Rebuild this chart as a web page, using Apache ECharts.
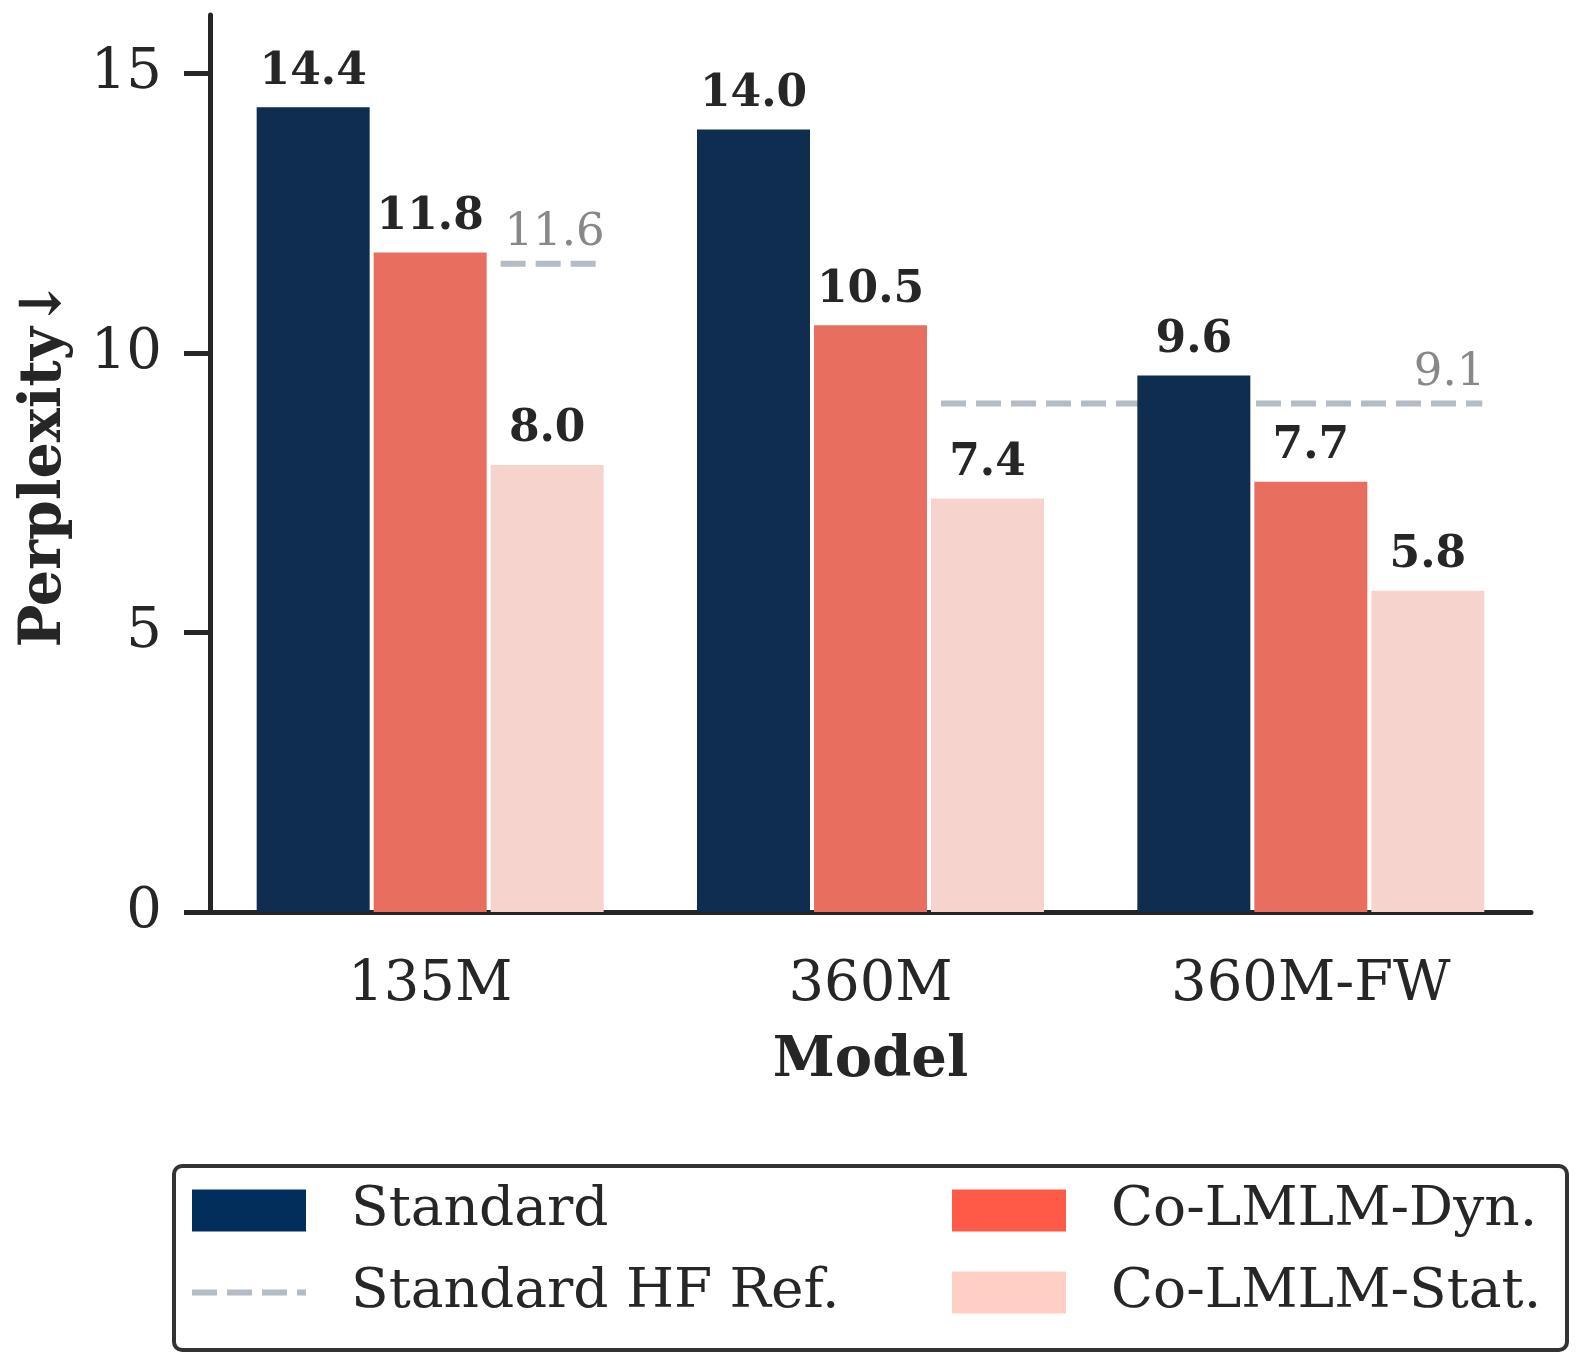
<!DOCTYPE html>
<html>
<head>
<meta charset="utf-8">
<script src="https://cdn.jsdelivr.net/npm/echarts@6/dist/echarts.min.js"></script>
<style>
  html, body { margin: 0; padding: 0; background: #fff; }
  #layout { width: 1583px; height: 1365px; }
</style>
</head>
<body>
<div id="layout"></div>
<script>
const categories = ['135M', '360M', '360M-FW'];
const standard = [14.4, 14.0, 9.6];
const colmDyn = [11.8, 10.5, 7.7];
const colmStat = [8.0, 7.4, 5.75];
// HF reference lines: value, first and last model that the line covers
const hfRefValues = [11.6, 9.1];
const hfRefFrom = ['135M', '360M'];
const hfRefTo = ['135M', '360M-FW'];
const yTicks = [0, 5, 10, 15];

const FONT = 'DejaVu Serif';
const gridLeft = 210, gridRight = 52;
const barW = 113, barGapPx = 4;

let myChart = null;
window.onload = function () {
    myChart = echarts.init(document.getElementById('layout'));
    const band = (1583 - gridLeft - gridRight) / categories.length;
    // third bar of a group, in category units on the hidden value axis
    const statOff = (barW + barGapPx) / band;
    const half = barW / 2 / band;

    const barLabel = {
        show: true, position: 'top', distance: 13,
        fontFamily: FONT, fontWeight: 'bold', fontSize: 44, color: '#262626',
        formatter: p => p.value.toFixed(1)
    };
    function bars(name, data, color) {
        return {
            name: name, type: 'bar', data: data,
            barWidth: barW, barGap: (barGapPx / barW * 100) + '%',
            itemStyle: { color: color }, z: 3,
            label: barLabel
        };
    }

    const refSeries = hfRefValues.map(function (v, k) {
        const x0 = categories.indexOf(hfRefFrom[k]) + 0.5 + statOff - half + 10 / band;
        const x1 = categories.indexOf(hfRefTo[k]) + 0.5 + statOff + half - 2 / band;
        return {
            name: 'Standard HF Ref.', type: 'line', xAxisIndex: 1, z: 1,
            symbol: 'circle', symbolSize: 0.01, silent: true,
            lineStyle: { color: '#b4bcc6', width: 6, type: [25, 10] },
            itemStyle: { color: '#b4bcc6' },
            data: [
                [x0, v],
                { value: [x1, v], label: {
                    show: true, position: 'top', align: 'right', distance: 8, offset: [3, 0],
                    fontFamily: FONT, fontSize: 45, color: '#888888',
                    formatter: p => p.value[1].toFixed(1)
                } }
            ]
        };
    });

    const legendText = { fontFamily: FONT, fontSize: 55, color: '#262626', lineHeight: 55, padding: [0, 0, 0, 40] };
    let option = {
        animation: false,
        backgroundColor: '#fff',
        grid: { left: gridLeft, right: gridRight, top: 15, bottom: 453 },
        xAxis: [{
            type: 'category', data: categories,
            axisLine: { lineStyle: { color: '#262626', width: 5 } },
            axisTick: { alignWithLabel: true, length: 24, lineStyle: { color: '#262626', width: 5 } },
            axisLabel: { margin: 45, fontFamily: FONT, fontSize: 56, color: '#262626' },
            name: 'Model', nameLocation: 'middle', nameGap: 121,
            nameTextStyle: { fontFamily: FONT, fontWeight: 'bold', fontSize: 56, color: '#262626' }
        }, {
            type: 'value', min: 0, max: categories.length, show: false
        }],
        yAxis: {
            type: 'value', min: 0, max: 16.05,
            splitLine: { show: false },
            axisLine: { show: true, lineStyle: { color: '#262626', width: 5 } },
            axisTick: { show: true, length: 26, customValues: yTicks, lineStyle: { color: '#262626', width: 5 } },
            axisLabel: { margin: 48, customValues: yTicks, fontFamily: FONT, fontSize: 56, color: '#262626' },
            name: 'Perplexity↓', nameLocation: 'middle', nameGap: 136,
            nameTextStyle: { fontFamily: FONT, fontWeight: 'bold', fontSize: 57, color: '#262626' }
        },
        legend: [{
            orient: 'vertical', left: 192, top: 1183, padding: 0,
            itemWidth: 114, itemHeight: 42, itemGap: 27,
            textStyle: legendText,
            data: [
                { name: 'Standard', icon: 'rect', itemStyle: { color: '#022e5c' } },
                { name: 'Standard HF Ref.', icon: 'path://M0,0h25v6h-25z M35,0h25v6h-25z M70,0h25v6h-25z M105,0h9v6h-9z',
                  itemStyle: { color: '#b4bcc6' } }
            ]
        }, {
            orient: 'vertical', left: 952, top: 1183, padding: 0,
            itemWidth: 114, itemHeight: 42, itemGap: 27,
            textStyle: legendText,
            data: [
                { name: 'Co-LMLM-Dyn.', icon: 'rect', itemStyle: { color: '#ff5a47' } },
                { name: 'Co-LMLM-Stat.', icon: 'rect', itemStyle: { color: '#ffcfc6' } }
            ]
        }],
        graphic: [{
            type: 'rect', left: 172, top: 1164, z: 0,
            shape: { width: 1393, height: 184, r: 8 },
            style: { fill: '#fff', stroke: '#333', lineWidth: 4 }
        }],
        series: [
            bars('Standard', standard, '#0f2d4f'),
            bars('Co-LMLM-Dyn.', colmDyn, '#e86e5f'),
            bars('Co-LMLM-Stat.', colmStat, '#f7d3cd')
        ].concat(refSeries)
    };
    myChart.setOption(option);
};
</script>
</body>
</html>
